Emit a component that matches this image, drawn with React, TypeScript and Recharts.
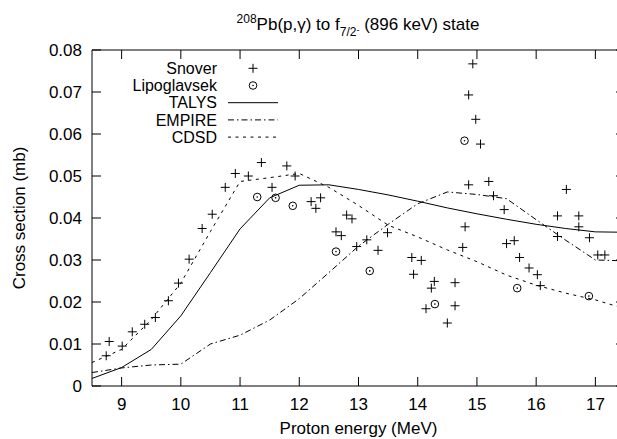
import React from 'react';
import { ComposedChart, Line, Scatter, XAxis, YAxis, Legend } from 'recharts';

// ---- data ----
const energyTicks = [9, 10, 11, 12, 13, 14, 15, 16, 17];
const sectionTicks = [0, 0.01, 0.02, 0.03, 0.04, 0.05, 0.06, 0.07, 0.08];
const sectionTickLabels = ['0', '0.01', '0.02', '0.03', '0.04', '0.05', '0.06', '0.07', '0.08'];

const snoverE = [8.74, 8.79, 9.01, 9.18, 9.39, 9.57, 9.79, 9.96, 10.14, 10.36, 10.53, 10.75, 10.92, 11.14, 11.36, 11.54, 11.79, 11.93, 12.2, 12.28, 12.36, 12.62, 12.71, 12.8, 12.89, 12.97, 13.14, 13.33, 13.49, 13.9, 13.93, 14.06, 14.14, 14.23, 14.28, 14.5, 14.63, 14.63, 14.76, 14.8, 14.86, 14.86, 14.93, 14.98, 15.06, 15.2, 15.28, 15.46, 15.5, 15.63, 15.72, 15.88, 16.02, 16.07, 16.36, 16.36, 16.51, 16.72, 16.72, 16.9, 17.04, 17.16];
const snoverV = [0.0072, 0.0106, 0.0095, 0.0129, 0.0147, 0.0163, 0.0203, 0.0245, 0.0302, 0.0375, 0.0409, 0.0473, 0.0506, 0.05, 0.0532, 0.0473, 0.0524, 0.05, 0.0439, 0.0423, 0.0448, 0.0367, 0.0358, 0.0407, 0.0398, 0.0332, 0.0348, 0.0323, 0.0365, 0.0306, 0.0266, 0.0299, 0.0184, 0.0233, 0.0249, 0.015, 0.0246, 0.0191, 0.033, 0.0379, 0.0479, 0.0693, 0.0767, 0.0635, 0.0576, 0.0487, 0.0453, 0.042, 0.0339, 0.0346, 0.0306, 0.0281, 0.0265, 0.0239, 0.0405, 0.0356, 0.0468, 0.0405, 0.0379, 0.0353, 0.0312, 0.0312];

const lipoE = [11.29, 11.6, 11.89, 12.62, 13.19, 14.29, 14.79, 15.68, 16.89];
const lipoV = [0.045, 0.0448, 0.0429, 0.032, 0.0274, 0.0195, 0.0584, 0.0233, 0.0214];

const modelE = [8.5, 9, 9.5, 10, 10.5, 11, 11.5, 12, 12.5, 13, 13.5, 14, 14.5, 15, 15.5, 16, 16.5, 17, 17.5];
const talysV = [0.0018, 0.0044, 0.0087, 0.0167, 0.027, 0.0374, 0.0448, 0.0478, 0.0479, 0.0468, 0.0455, 0.044, 0.0424, 0.041, 0.0397, 0.0385, 0.0375, 0.0367, 0.0366];
const empireV = [0.0032, 0.0043, 0.005, 0.0052, 0.01, 0.0121, 0.0157, 0.0208, 0.027, 0.0333, 0.0385, 0.0434, 0.0462, 0.0456, 0.0446, 0.0396, 0.0347, 0.03, 0.0298];
const cdsdV = [0.0056, 0.0087, 0.0158, 0.0245, 0.0368, 0.0487, 0.0496, 0.0506, 0.0473, 0.043, 0.0383, 0.0355, 0.0324, 0.0296, 0.0264, 0.024, 0.0221, 0.0205, 0.0184];

const seriesNames = ['Snover', 'Lipoglavsek', 'TALYS', 'EMPIRE', 'CDSD'];

const toPoints = (xs: number[], ys: number[]) => xs.map((x, i) => ({ x, y: ys[i] }));
const snoverData = toPoints(snoverE, snoverV);
const lipoData = toPoints(lipoE, lipoV);
const talysData = toPoints(modelE, talysV);
const empireData = toPoints(modelE, empireV);
const cdsdData = toPoints(modelE, cdsdV);

// ---- layout / style ----
const FONT = '"Liberation Sans", Arial, Helvetica, sans-serif';
const FS = 17;
const LEG_FS = 16;
const TICK = 9;
const EMPIRE_DASH = '6 3 1.5 3';
const CDSD_DASH = '3 4.5';
const CHART_W = 640;
const CHART_H = 439;
const MARGIN = { top: 50, right: 5, bottom: 0, left: 0 };
const LEFT_AXIS_W = 92;
const RIGHT_AXIS_W = 10;
const PLOT_TOP = MARGIN.top;
const PLOT_LEFT = MARGIN.left + LEFT_AXIS_W;
const PLOT_RIGHT = CHART_W - MARGIN.right - RIGHT_AXIS_W;

const PlusShape = (props: any) => {
  const { cx, cy } = props;
  if (cx == null || cy == null) return null;
  return <path d={`M${cx - 4.5},${cy}h9M${cx},${cy - 4.5}v9`} stroke="#000" strokeWidth={1} fill="none" />;
};
const CircleShape = (props: any) => {
  const { cx, cy } = props;
  if (cx == null || cy == null) return null;
  return (
    <g>
      <circle cx={cx} cy={cy} r={3.8} fill="none" stroke="#000" strokeWidth={1} />
      <circle cx={cx} cy={cy} r={0.8} fill="#000" />
    </g>
  );
};

// bottom tick: inward tick on the bottom axis, mirrored tick on the top border, label
const BottomTick = (props: any) => {
  const { x, y, payload } = props;
  const axisY = y - 12;
  return (
    <g>
      <line x1={x} x2={x} y1={axisY} y2={axisY - TICK} stroke="#000" strokeWidth={1} />
      <line x1={x} x2={x} y1={PLOT_TOP} y2={PLOT_TOP + TICK} stroke="#000" strokeWidth={1} />
      <text x={x} y={y} dy="0.71em" textAnchor="middle" fontSize={FS} fontFamily={FONT} fill="#000">
        {payload.value}
      </text>
    </g>
  );
};
// left tick: inward tick on the left axis, mirrored tick on the right border, label
const LeftTick = (props: any) => {
  const { x, y, payload, index } = props;
  const axisX = x + 10;
  return (
    <g>
      <line x1={axisX} x2={axisX + TICK} y1={y} y2={y} stroke="#000" strokeWidth={1} />
      <line x1={PLOT_RIGHT} x2={PLOT_RIGHT - TICK} y1={y} y2={y} stroke="#000" strokeWidth={1} />
      <text x={x} y={y} dy="0.355em" textAnchor="end" fontSize={FS} fontFamily={FONT} fill="#000">
        {sectionTickLabels[index] ?? String(payload.value)}
      </text>
    </g>
  );
};

const Title = () => (
  <text x={358} y={30} textAnchor="middle" fontSize={FS} fontFamily={FONT} fill="#000">
    <tspan fontSize={12} dy={-7}>208</tspan>
    <tspan dy={7}>Pb(p,γ) to f</tspan>
    <tspan fontSize={12} dy={6}>7/2</tspan>
    <tspan fontSize={9} dy={-3}>-</tspan>
    <tspan dy={-3}> (896 keV) state</tspan>
  </text>
);

const YLabel = () => (
  <text x={25} y={218} transform="rotate(-90, 25, 218)" textAnchor="middle" fontSize={FS} fontFamily={FONT} fill="#000">
    Cross section (mb)
  </text>
);

// frame border along the top of the plot area
const TopBorder = () => (
  <line x1={PLOT_LEFT} x2={PLOT_RIGHT} y1={PLOT_TOP} y2={PLOT_TOP} stroke="#000" strokeWidth={1} />
);

const LegendContent = () => {
  const rowY = (i: number) => 68.3 + 17.2 * i;
  const textX = 217;
  const symX = 253;
  return (
    <svg width={300} height={150} style={{ display: 'block' }}>
      {seriesNames.map((name, i) => (
        <text key={name} x={textX} y={rowY(i)} dy="0.355em" textAnchor="end" fontSize={LEG_FS} fontFamily={FONT} fill="#000">
          {name}
        </text>
      ))}
      <PlusShape cx={symX} cy={rowY(0)} />
      <CircleShape cx={symX} cy={rowY(1)} />
      <line x1={228} x2={278} y1={rowY(2)} y2={rowY(2)} stroke="#000" strokeWidth={1} />
      <line x1={228} x2={278} y1={rowY(3)} y2={rowY(3)} stroke="#000" strokeWidth={1} strokeDasharray={EMPIRE_DASH} />
      <line x1={228} x2={278} y1={rowY(4)} y2={rowY(4)} stroke="#000" strokeWidth={1} strokeDasharray={CDSD_DASH} />
    </svg>
  );
};

export default function App() {
  return (
    <div style={{ position: 'fixed', left: 0, top: 0, width: 617, height: 439, overflow: 'hidden', background: '#fff' }}>
      <ComposedChart width={CHART_W} height={CHART_H} margin={MARGIN}>
        <XAxis
          xAxisId="b"
          dataKey="x"
          type="number"
          domain={[8.5, 17.5]}
          ticks={energyTicks}
          interval={0}
          allowDataOverflow
          height={53}
          tickSize={0}
          tickMargin={12}
          tickLine={false}
          tick={<BottomTick />}
          axisLine={{ stroke: '#000', strokeWidth: 1 }}
          label={{ value: 'Proton energy (MeV)', position: 'insideBottom', offset: 5, fontSize: FS, fontFamily: FONT, fill: '#000' }}
        />
        <YAxis
          yAxisId="l"
          dataKey="y"
          type="number"
          domain={[0, 0.08]}
          ticks={sectionTicks}
          interval={0}
          allowDataOverflow
          width={LEFT_AXIS_W}
          tickSize={0}
          tickMargin={10}
          tickLine={false}
          tick={<LeftTick />}
          axisLine={{ stroke: '#000', strokeWidth: 1 }}
          label={{ content: () => (<g><YLabel /><Title /><TopBorder /></g>) }}
        />
        <YAxis
          yAxisId="r"
          orientation="right"
          type="number"
          domain={[0, 0.08]}
          width={RIGHT_AXIS_W}
          tick={false}
          tickLine={false}
          axisLine={{ stroke: '#000', strokeWidth: 1 }}
        />
        <Legend
          layout="horizontal"
          verticalAlign="middle"
          align="center"
          wrapperStyle={{ left: 0, top: 0, width: 300, height: 150, pointerEvents: 'none' }}
          content={() => <LegendContent />}
        />
        <Line xAxisId="b" yAxisId="l" data={talysData} dataKey="y" name="TALYS" type="linear" stroke="#000" strokeWidth={1} dot={false} activeDot={false} isAnimationActive={false} />
        <Line xAxisId="b" yAxisId="l" data={empireData} dataKey="y" name="EMPIRE" type="linear" stroke="#000" strokeWidth={1} strokeDasharray={EMPIRE_DASH} dot={false} activeDot={false} isAnimationActive={false} />
        <Line xAxisId="b" yAxisId="l" data={cdsdData} dataKey="y" name="CDSD" type="linear" stroke="#000" strokeWidth={1} strokeDasharray={CDSD_DASH} dot={false} activeDot={false} isAnimationActive={false} />
        <Scatter xAxisId="b" yAxisId="l" data={snoverData} dataKey="y" name="Snover" shape={<PlusShape />} isAnimationActive={false} />
        <Scatter xAxisId="b" yAxisId="l" data={lipoData} dataKey="y" name="Lipoglavsek" shape={<CircleShape />} isAnimationActive={false} />
      </ComposedChart>
    </div>
  );
}
